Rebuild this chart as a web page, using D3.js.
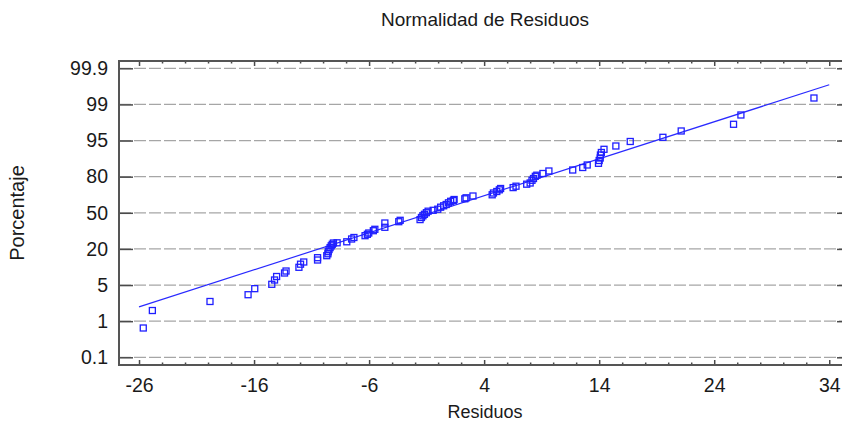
<!DOCTYPE html>
<html>
<head>
<meta charset="utf-8">
<script src="https://cdn.jsdelivr.net/npm/d3@7"></script>
<style>
  body { margin: 0; background: #fff; }
  svg { display: block; font-family: "Liberation Sans", Arial, sans-serif; }
  .grid line { stroke: #a6a6a6; stroke-width: 1.3; stroke-dasharray: 12,3; }
  .axis path { display: none; }
  .axis line { stroke: #4a4a4a; stroke-width: 1.5; }
  .axis text { fill: #1a1a1a; font-size: 19.5px; font-family: "Liberation Sans", Arial, sans-serif; }
  .label { fill: #1a1a1a; }
</style>
</head>
<body>
<svg id="chart" width="842" height="422"></svg>
<script>
// residuals (sorted) and their plotted cumulative percentage
var residuals = [
  -25.63, -24.84, -19.83, -16.52, -15.94, -14.46, -14.22, -14.04, -13.35, -13.22,
  -12.10, -11.96, -11.68, -10.48, -10.48, -9.68, -9.58, -9.55, -9.48, -9.39,
  -9.29, -9.20, -9.10, -8.78, -7.94, -7.52, -7.32, -6.35, -6.15, -6.03,
  -5.63, -5.50, -4.63, -4.63, -3.42, -3.30, -1.57, -1.45, -1.32, -1.19,
  -1.02, -0.87, -0.43, -0.03, 0.22, 0.48, 0.70, 0.90, 1.09, 1.32,
  1.39, 2.32, 2.43, 3.03, 4.70, 4.81, 5.10, 5.32, 5.43, 6.52,
  6.77, 7.70, 8.00, 8.16, 8.29, 8.45, 8.58, 9.11, 9.63, 11.70,
  12.57, 12.96, 13.94, 14.00, 14.09, 14.11, 14.19, 14.42, 15.45, 16.70,
  19.54, 21.13, 25.68, 26.32, 32.67
];
var percents = [
  0.83, 2.18, 3.18, 3.93, 4.60, 5.31, 7.10, 8.55, 10.00, 10.83,
  12.37, 13.66, 14.57, 15.40, 16.36, 17.19, 17.98, 18.85, 19.76, 21.10,
  22.60, 23.84, 24.92, 25.09, 25.92, 28.24, 29.49, 30.98, 32.15, 33.22,
  35.13, 36.30, 37.96, 41.53, 42.61, 43.77, 44.35, 46.10, 47.51, 48.75,
  50.08, 51.33, 52.08, 52.99, 54.65, 55.81, 56.89, 58.30, 59.55, 60.21,
  61.04, 61.63, 62.46, 63.95, 64.95, 66.44, 67.69, 69.10, 70.18, 70.93,
  72.09, 73.75, 74.75, 76.99, 78.48, 80.16, 80.61, 81.32, 82.36, 82.77,
  83.81, 84.85, 85.55, 86.72, 87.75, 89.00, 90.04, 91.37, 92.74, 94.61,
  95.36, 96.06, 96.80, 97.83, 99.16
];

// fitted reference line (end points)
var fitX = [-26, 34];
var fitPct = [2.59, 99.49];

// axis ticks
var xTicks = [-26, -16, -6, 4, 14, 24, 34];
var yTicks = [0.1, 1, 5, 20, 50, 80, 95, 99, 99.9];

var svg = d3.select("#chart");

var plotLeft = 119, plotRight = 851, plotTop = 61, plotBottom = 365,
    gridTop = 68.3, gridBottom = 357.3;

var x = d3.scaleLinear().domain([-27.74, 35.89]).range([plotLeft, plotRight]);

// probability axis: labels equally spaced, piecewise between them
var yPos = yTicks.map(function(d, i) {
  return gridBottom - i * (gridBottom - gridTop) / (yTicks.length - 1);
});
var y = d3.scaleLinear().domain(yTicks).range(yPos);

var minorX = d3.range(-26, 36, 2).filter(function(d) { return xTicks.indexOf(d) < 0; });

// horizontal grid
svg.append("g")
    .attr("class", "grid")
  .selectAll("line")
    .data(yTicks)
  .enter().append("line")
    .attr("x1", plotLeft).attr("x2", plotRight)
    .attr("y1", function(d) { return y(d); })
    .attr("y2", function(d) { return y(d); });

// axes
svg.append("g")
    .attr("class", "axis")
    .attr("transform", "translate(" + plotLeft + ",0)")
    .call(d3.axisLeft(y).tickValues(yTicks).tickSize(-14).tickPadding(11)
      .tickFormat(function(d) { return String(d); }));

svg.append("g")
    .attr("class", "axis")
    .attr("transform", "translate(" + plotRight + ",0)")
    .call(d3.axisRight(y).tickValues(yTicks).tickSize(-14).tickFormat(""));

svg.append("g")
    .attr("class", "axis")
    .attr("transform", "translate(0," + plotBottom + ")")
    .call(d3.axisBottom(x).tickValues(xTicks).tickSize(-5).tickPadding(13)
      .tickFormat(function(d) { return String(d); }));

svg.append("g")
    .attr("class", "axis")
    .attr("transform", "translate(0," + plotBottom + ")")
    .call(d3.axisBottom(x).tickValues(minorX).tickSize(-2.5).tickFormat(""));

svg.append("g")
    .attr("class", "axis")
    .attr("transform", "translate(0," + plotTop + ")")
    .call(d3.axisTop(x).tickValues(xTicks).tickSize(-5).tickFormat(""));

svg.append("g")
    .attr("class", "axis")
    .attr("transform", "translate(0," + plotTop + ")")
    .call(d3.axisTop(x).tickValues(minorX).tickSize(-2.5).tickFormat(""));

// frame
svg.append("rect")
    .attr("x", plotLeft).attr("y", plotTop)
    .attr("width", plotRight - plotLeft).attr("height", plotBottom - plotTop)
    .attr("fill", "none")
    .attr("stroke", "#555")
    .attr("stroke-width", 2);

// fitted line
var fitLine = d3.line()
    .x(function(d) { return x(d[0]); })
    .y(function(d) { return y(d[1]); });

svg.append("path")
    .datum(d3.zip(fitX, fitPct))
    .attr("d", fitLine)
    .attr("fill", "none")
    .attr("stroke", "#2a2aff")
    .attr("stroke-width", 1.2);

// points
svg.append("g")
  .selectAll("rect")
    .data(d3.zip(residuals, percents))
  .enter().append("rect")
    .attr("x", function(d) { return x(d[0]) - 3; })
    .attr("y", function(d) { return y(d[1]) - 3; })
    .attr("width", 6).attr("height", 6)
    .attr("fill", "none")
    .attr("stroke", "#1f1fff")
    .attr("stroke-width", 1.3);

// labels
svg.append("text")
    .attr("class", "label")
    .attr("x", 485).attr("y", 26)
    .attr("text-anchor", "middle")
    .style("font-size", "19px")
    .text("Normalidad de Residuos");

svg.append("text")
    .attr("class", "label")
    .attr("x", 485).attr("y", 418)
    .attr("text-anchor", "middle")
    .style("font-size", "18px")
    .text("Residuos");

svg.append("text")
    .attr("class", "label")
    .attr("transform", "translate(24,213) rotate(-90)")
    .attr("text-anchor", "middle")
    .style("font-size", "20px")
    .text("Porcentaje");
</script>
</body>
</html>
